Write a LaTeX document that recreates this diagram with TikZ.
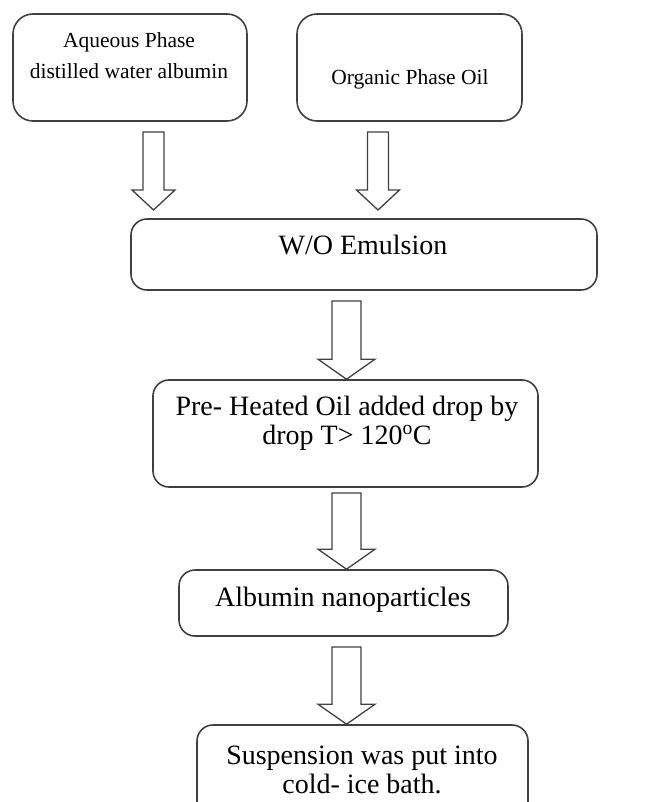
\documentclass[tikz,border=0pt]{standalone}
\usepackage{fontspec}
\setmainfont{Liberation Serif}
\usetikzlibrary{calc}
\usetikzlibrary{positioning}

% hollow block arrow: shaft half width, head half width, start, tip
\newcommand{\hollowarrow}[4]{%
	\draw[arrow_line] ($(#3)+(-#1,0)$) -- ($(#4)+(-#1,-20)$) -- ($(#4)+(-#2,-20)$) -- (#4)
	-- ($(#4)+(#2,-20)$) -- ($(#4)+(#1,-20)$) -- ($(#3)+(#1,0)$) -- cycle;}

\begin{document}
\begin{tikzpicture}[x=1pt, y=-1pt,
	box_node/.style={draw=black!75, line width=1.6pt, rounded corners=16pt, inner sep=0pt},
	small_text/.style={align=center, inner sep=0pt, anchor=base, font=\fontsize{21.5}{31}\selectfont},
	big_text/.style={align=center, inner sep=0pt, anchor=base, font=\fontsize{28}{29}\selectfont},
	arrow_line/.style={draw=black!75, line width=1.3pt, line join=miter}]

	\useasboundingbox (0,0) rectangle (662,802);

	\node[box_node, rounded corners=20pt, minimum width=234pt, minimum height=107pt] (aqueous) at (130, 67.5) {};
	\node[box_node, rounded corners=20pt, minimum width=225pt, minimum height=107pt] (organic) at (409.5, 67.5) {};
	\node[box_node, minimum width=466pt, minimum height=71pt] (emulsion) at (364, 254.5) {};
	\node[box_node, minimum width=385pt, minimum height=107pt] (preheat) at (345.5, 433.5) {};
	\node[box_node, minimum width=329pt, minimum height=66pt] (albumin) at (343.5, 603) {};
	\node[box_node, minimum width=331pt, minimum height=105pt] (suspension) at (362.5, 777.5) {};

	% base anchor sits on the last line
	\node[small_text] (aqueous_txt) at (129, 79) {Aqueous Phase\\distilled water albumin};
	\node[small_text] (organic_txt) at (410, 85) {Organic Phase Oil};
	\node[big_text] (emulsion_txt) at (363, 254) {W/O Emulsion};
	\node[big_text] (preheat_txt) at (347, 444) {Pre- Heated Oil added drop by\\drop T> 120\textsuperscript{o}C};
	\node[big_text] (albumin_txt) at (343, 606) {Albumin nanoparticles};
	\node[big_text] (suspension_txt) at (362, 793) {Suspension was put into\\cold- ice bath.};

	\coordinate (a1) at (153.5, 132);
	\coordinate (b1) at (153.5, 210);
	\coordinate (a2) at (378, 132);
	\coordinate (b2) at (378, 210);
	\coordinate (a3) at (346.5, 301);
	\coordinate (a4) at (346.5, 493);
	\coordinate (a5) at (346.5, 647);

	\hollowarrow{10.5}{21.5}{a1}{b1}
	\hollowarrow{10.5}{21.5}{a2}{b2}
	\hollowarrow{14.5}{28.5}{a3}{a3 |- preheat.north}
	\hollowarrow{14.5}{28.5}{a4}{a4 |- albumin.north}
	\hollowarrow{14.5}{28.5}{a5}{a5 |- suspension.north}
\end{tikzpicture}
\end{document}
